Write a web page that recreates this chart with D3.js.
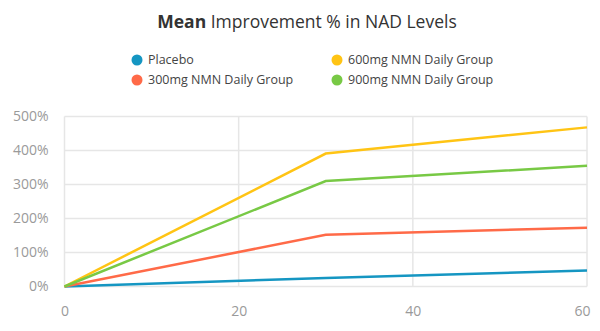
<!DOCTYPE html>
<html>
<head>
<meta charset="utf-8">
<script src="https://cdn.jsdelivr.net/npm/d3@7"></script>
<style>
  body { margin: 0; background: #fff; }
  svg { font-family: "Open Sans", sans-serif; }
</style>
</head>
<body>
<svg id="chart"></svg>
<script>
//**** DATA ****//
const days = [0, 30, 60];
const placebo = [0, 25, 47];
const nmn300 = [0, 152, 173];
const nmn600 = [0, 391, 468];
const nmn900 = [0, 310, 355];
const xTicks = [0, 20, 40, 60];
const yTicks = [0, 100, 200, 300, 400, 500];

const series = [
  {name: 'Placebo', values: placebo, color: '#1596c2'},
  {name: '300mg NMN Daily Group', values: nmn300, color: '#ff6a48'},
  {name: '600mg NMN Daily Group', values: nmn600, color: '#ffc414'},
  {name: '900mg NMN Daily Group', values: nmn900, color: '#78c945'}
];

const width = 600,
      height = 331;

const svg = d3.select('#chart')
    .attr('width', width)
    .attr('height', height);

const x = d3.scaleLinear().domain([0, 60]).range([64.5, 587]);
const y = d3.scaleLinear().domain([0, 500]).range([286.5, 116.5]);

// title
const title = svg.append('text')
    .attr('x', 307)
    .attr('y', 28)
    .attr('text-anchor', 'middle')
    .style('font-size', '17.5px')
    .style('fill', '#333');
title.append('tspan').style('font-weight', 'bold').text('Mean');
title.append('tspan').text(' Improvement % in NAD Levels');

// legend
const legend = svg.selectAll('.legend')
    .data(series)
    .enter()
    .append('g')
    .attr('class', 'legend')
    .attr('transform', function(d, i) {
        const col = i < 2 ? 0 : 1;
        const row = i % 2;
        return 'translate(' + (137 + col * 200) + ',' + (60 + row * 20) + ')';
    });

legend.append('circle')
    .attr('r', 5.5)
    .style('fill', function(d) { return d.color; });

legend.append('text')
    .attr('x', 11)
    .attr('dy', '0.35em')
    .style('font-size', '12.5px')
    .style('fill', '#444')
    .text(function(d) { return d.name; });

// grid
svg.append('g')
    .selectAll('line')
    .data(yTicks)
    .enter()
    .append('line')
    .attr('x1', x(0))
    .attr('x2', x(60))
    .attr('y1', function(d) { return y(d); })
    .attr('y2', function(d) { return y(d); })
    .style('stroke', '#e6e6e6')
    .style('stroke-width', 1.5);

svg.append('g')
    .selectAll('line')
    .data(xTicks)
    .enter()
    .append('line')
    .attr('x1', function(d) { return x(d); })
    .attr('x2', function(d) { return x(d); })
    .attr('y1', y(0))
    .attr('y2', y(500))
    .style('stroke', '#e6e6e6')
    .style('stroke-width', 1.5);

// axes
const yAxis = svg.append('g')
    .attr('transform', 'translate(' + x(0) + ',0)')
    .call(d3.axisLeft(y).tickValues(yTicks).tickSize(0).tickPadding(16).tickFormat(function(d) { return d + '%'; }));

const xAxis = svg.append('g')
    .attr('transform', 'translate(0,' + y(0) + ')')
    .call(d3.axisBottom(x).tickValues(xTicks).tickSize(0).tickPadding(20));

[yAxis, xAxis].forEach(function(a) {
    a.select('.domain').remove();
    a.selectAll('text')
        .style('font-family', '"Open Sans", sans-serif')
        .style('font-size', '14px')
        .style('fill', '#9a9a9a');
});

xAxis.selectAll('.tick')
    .filter(function(d) { return d === 60; })
    .select('text')
    .attr('dx', '-5');

// lines
const line = d3.line()
    .x(function(d, i) { return x(days[i]); })
    .y(function(d) { return y(d); });

svg.append('g')
    .selectAll('path')
    .data(series)
    .enter()
    .append('path')
    .attr('d', function(d) { return line(d.values); })
    .style('fill', 'none')
    .style('stroke', function(d) { return d.color; })
    .style('stroke-width', 2.5);
</script>
</body>
</html>
